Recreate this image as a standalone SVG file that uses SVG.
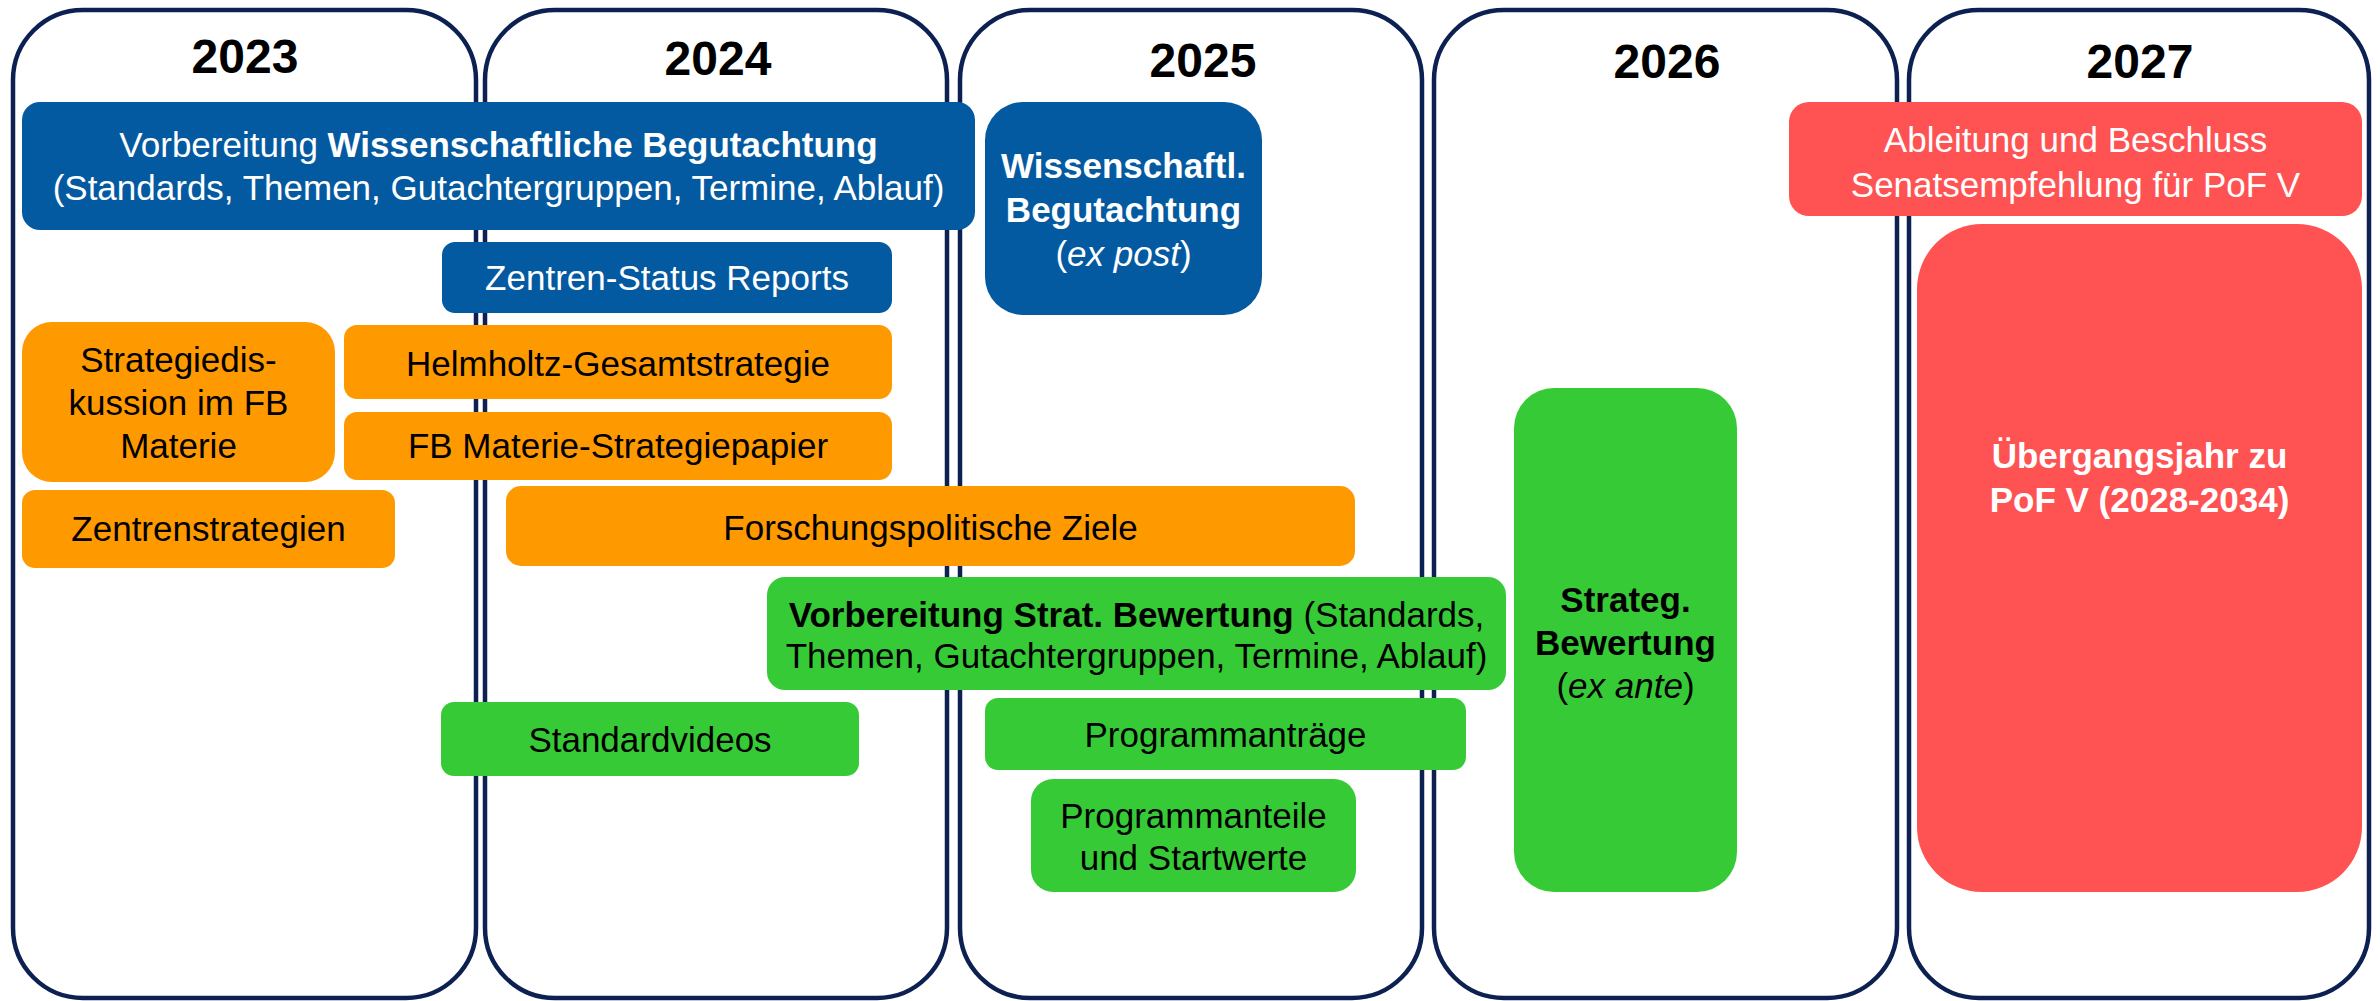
<svg xmlns="http://www.w3.org/2000/svg" width="2380" height="1001" viewBox="0 0 2380 1001">
  <style>
    text { font-family: "Liberation Sans", Arial, Helvetica, sans-serif; font-size: 35px; text-anchor: middle; }
    .col { fill: #ffffff; stroke: #0C2152; stroke-width: 4.5; }
    .year { font-size: 48px; font-weight: bold; fill: #000000; }
    .blue { fill: #045AA0; }
    .orange { fill: #FF9900; }
    .green { fill: #36CB36; }
    .red { fill: #FF5252; }
    .w { fill: #ffffff; }
    .k { fill: #000000; }
    .b { font-weight: bold; }
    .i { font-style: italic; }
  </style>
  <rect x="0" y="0" width="2380" height="1001" fill="#ffffff"/>

  <g id="columns">
    <g id="col-2023">
      <rect class="col" x="13" y="10" width="463" height="988" rx="70" ry="70"/>
      <text class="year" x="245" y="73">2023</text>
    </g>
    <g id="col-2024">
      <rect class="col" x="485" y="10" width="462" height="988" rx="70" ry="70"/>
      <text class="year" x="718" y="75">2024</text>
    </g>
    <g id="col-2025">
      <rect class="col" x="960" y="10" width="462" height="988" rx="70" ry="70"/>
      <text class="year" x="1203" y="77">2025</text>
    </g>
    <g id="col-2026">
      <rect class="col" x="1434" y="10" width="463" height="988" rx="70" ry="70"/>
      <text class="year" x="1667" y="78">2026</text>
    </g>
    <g id="col-2027">
      <rect class="col" x="1909" y="10" width="460" height="988" rx="70" ry="70"/>
      <text class="year" x="2140" y="78">2027</text>
    </g>
  </g>

  <g id="connectors"></g>

  <g id="vorbereitung-wb">
    <rect class="blue" x="22" y="102" width="953" height="128" rx="18"/>
    <text class="w" x="498.5" y="157">Vorbereitung <tspan class="b">Wissenschaftliche Begutachtung</tspan></text>
    <text class="w" x="498.5" y="200">(Standards, Themen, Gutachtergruppen, Termine, Ablauf)</text>
  </g>

  <g id="zentren-status">
    <rect class="blue" x="442" y="242" width="450" height="71" rx="13"/>
    <text class="w" x="667" y="290">Zentren-Status Reports</text>
  </g>

  <g id="strategiediskussion">
    <rect class="orange" x="22" y="322" width="313" height="160" rx="30"/>
    <text class="k" x="178.5" y="372">Strategiedis-</text>
    <text class="k" x="178.5" y="415">kussion im FB</text>
    <text class="k" x="178.5" y="458">Materie</text>
  </g>

  <g id="helmholtz">
    <rect class="orange" x="344" y="325" width="548" height="74" rx="13"/>
    <text class="k" x="618" y="376">Helmholtz-Gesamtstrategie</text>
  </g>

  <g id="fb-materie">
    <rect class="orange" x="344" y="412" width="548" height="68" rx="13"/>
    <text class="k" x="618" y="458">FB Materie-Strategiepapier</text>
  </g>

  <g id="zentrenstrategien">
    <rect class="orange" x="22" y="490" width="373" height="78" rx="13"/>
    <text class="k" x="208.5" y="541">Zentrenstrategien</text>
  </g>

  <g id="forschungspolitische-ziele">
    <rect class="orange" x="506" y="486" width="849" height="80" rx="15"/>
    <text class="k" x="930.5" y="540">Forschungspolitische Ziele</text>
  </g>

  <g id="vorbereitung-sb">
    <rect class="green" x="767" y="577" width="739" height="113" rx="18"/>
    <text class="k" x="1136.5" y="627"><tspan class="b">Vorbereitung Strat. Bewertung</tspan> (Standards,</text>
    <text class="k" x="1136.5" y="668">Themen, Gutachtergruppen, Termine, Ablauf)</text>
  </g>

  <g id="standardvideos">
    <rect class="green" x="441" y="702" width="418" height="74" rx="13"/>
    <text class="k" x="650" y="752">Standardvideos</text>
  </g>

  <g id="programmantraege">
    <rect class="green" x="985" y="698" width="481" height="72" rx="13"/>
    <text class="k" x="1225.5" y="747">Programmanträge</text>
  </g>

  <g id="programmanteile">
    <rect class="green" x="1031" y="779" width="325" height="113" rx="22"/>
    <text class="k" x="1193.5" y="828">Programmanteile</text>
    <text class="k" x="1193.5" y="870">und Startwerte</text>
  </g>

  <g id="wiss-begutachtung">
    <rect class="blue" x="985" y="102" width="277" height="213" rx="38"/>
    <text class="w b" x="1123.5" y="178">Wissenschaftl.</text>
    <text class="w b" x="1123.5" y="222">Begutachtung</text>
    <text class="w" x="1123.5" y="266">(<tspan class="i">ex post</tspan>)</text>
  </g>

  <g id="strat-bewertung">
    <rect class="green" x="1514" y="388" width="223" height="504" rx="40"/>
    <text class="k b" x="1625.5" y="612">Strateg.</text>
    <text class="k b" x="1625.5" y="655">Bewertung</text>
    <text class="k" x="1625.5" y="698">(<tspan class="i">ex ante</tspan>)</text>
  </g>

  <g id="ableitung">
    <rect class="red" x="1789" y="102" width="573" height="114" rx="20"/>
    <text class="w" x="2075.5" y="152">Ableitung und Beschluss</text>
    <text class="w" x="2075.5" y="197">Senatsempfehlung für PoF V</text>
  </g>

  <g id="uebergangsjahr">
    <rect class="red" x="1917" y="224" width="445" height="668" rx="65"/>
    <text class="w b" x="2139.5" y="468">Übergangsjahr zu</text>
    <text class="w b" x="2139.5" y="512">PoF V (2028-2034)</text>
  </g>
</svg>
